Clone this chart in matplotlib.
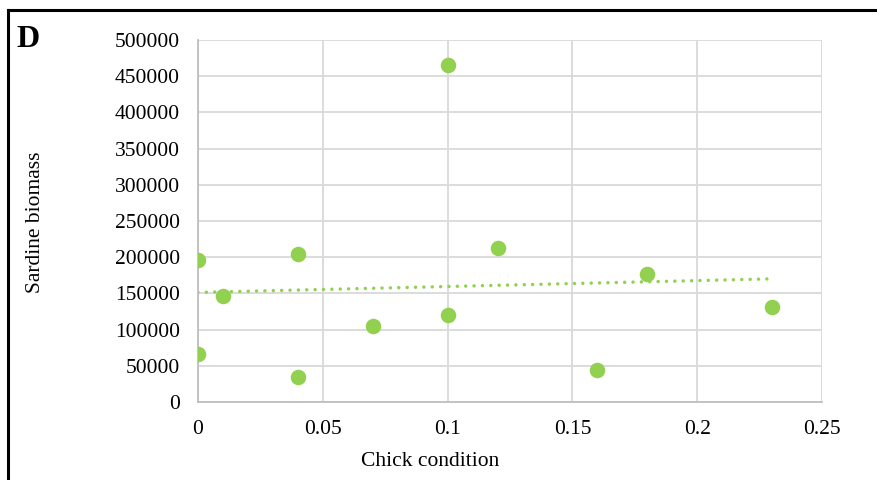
import numpy as np
import matplotlib
matplotlib.use('Agg')
from matplotlib import pyplot as plt
from matplotlib.lines import Line2D

# chick condition vs. sardine biomass
chick_condition = [0, 0, 0.01, 0.04, 0.04, 0.07, 0.1, 0.1, 0.12, 0.16, 0.18, 0.23]
sardine_biomass = [196000, 66000, 146000, 204500, 34500, 105000,
                   465500, 120000, 212500, 44000, 177000, 131000]

x_ticks = [0, 0.05, 0.1, 0.15, 0.2, 0.25]
x_tick_labels = ['0', '0.05', '0.1', '0.15', '0.2', '0.25']
y_ticks = list(range(0, 500001, 50000))

GREEN = '#92d050'

plt.rcParams['font.family'] = ['Liberation Serif', 'DejaVu Serif']

fig = plt.figure(figsize=(8.78, 4.8), dpi=100)
ax = fig.add_axes([0.2255, 0.1625, 0.7107, 0.7542])

ax.scatter(chick_condition, sardine_biomass, s=125, color=GREEN,
           zorder=3, linewidths=0)

# linear trendline over the data range
slope, intercept = np.polyfit(chick_condition, sardine_biomass, 1)
xs = np.array([min(chick_condition), max(chick_condition)])
ax.plot(xs, slope * xs + intercept, color=GREEN, lw=2.5,
        linestyle=(0, (0.01, 2.4)), dash_capstyle='round', zorder=2)

ax.set_xlim(0, 0.25)
ax.set_ylim(0, 500000)
ax.set_xticks(x_ticks)
ax.set_xticklabels(x_tick_labels)
ax.set_yticks(y_ticks)
ax.set_yticklabels([str(v) for v in y_ticks])
ax.tick_params(length=0, labelsize=15.5, colors='black')
ax.tick_params(axis='x', pad=13)
ax.tick_params(axis='y', pad=13)

ax.grid(True, color='#d9d9d9', lw=1.3, zorder=0)
ax.set_axisbelow(True)
for side in ['top', 'right']:
    ax.spines[side].set_visible(False)
for side in ['left', 'bottom']:
    ax.spines[side].set_color('#bfbfbf')
    ax.spines[side].set_linewidth(1.3)

fig.text(0.49, 0.038, 'Chick condition', ha='center', va='center', fontsize=15.5)
fig.text(0.041, 0.537, 'Sardine biomass', ha='center', va='center',
         rotation=90, fontsize=15.5)
fig.text(0.019, 0.918, 'D', ha='left', va='center', fontsize=23,
         fontweight='bold')

# frame on the top and left edges
fig.add_artist(Line2D([0.0092, 1.0], [0.979, 0.979], color='black', lw=2.2,
                      transform=fig.transFigure))
fig.add_artist(Line2D([0.0092, 0.0092], [0.0, 0.979], color='black', lw=2.2,
                      transform=fig.transFigure))

fig.savefig('out.png', dpi=100)
